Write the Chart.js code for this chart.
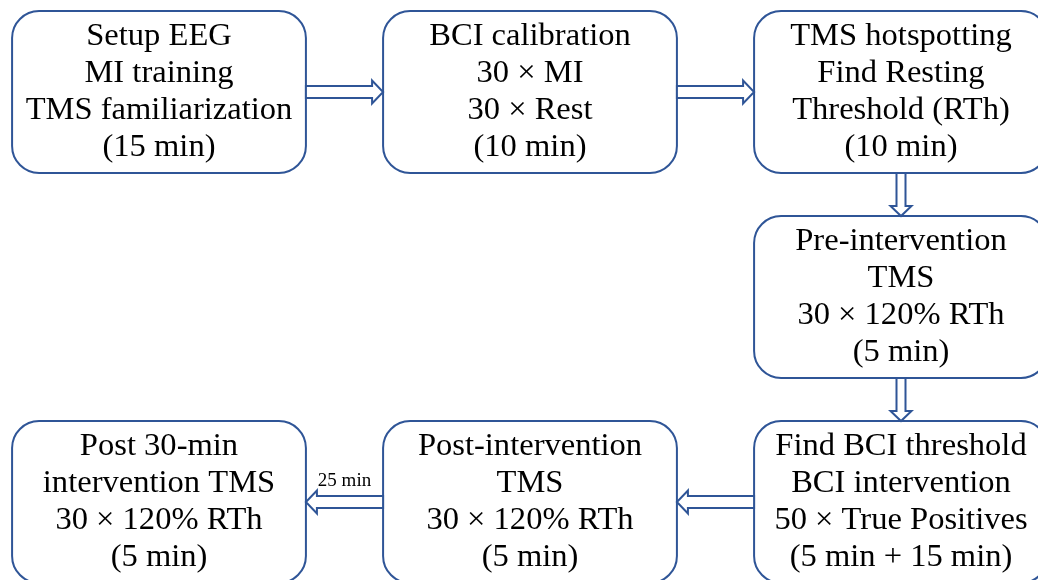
<!DOCTYPE html>
<html>
<head>
<meta charset="utf-8">
<script src="https://cdn.jsdelivr.net/npm/chart.js@4.4.1/dist/chart.umd.min.js"></script>
<style>
  html, body { margin: 0; padding: 0; background: #fff; }
  #wrap { width: 1038px; height: 580px; }
</style>
</head>
<body>
<div id="wrap"><canvas id="flow" width="1038" height="580"></canvas></div>
<script>
// flowchart steps: grid column / row of each box, and its text lines
const boxCols = [0, 1, 2, 2, 2, 1, 0];
const boxRows = [0, 0, 0, 1, 2, 2, 2];
const boxLines = [
  ["Setup EEG", "MI training", "TMS familiarization", "(15 min)"],
  ["BCI calibration", "30 × MI", "30 × Rest", "(10 min)"],
  ["TMS hotspotting", "Find Resting", "Threshold (RTh)", "(10 min)"],
  ["Pre-intervention", "TMS", "30 × 120% RTh", "(5 min)"],
  ["Find BCI threshold", "BCI intervention", "50 × True Positives", "(5 min + 15 min)"],
  ["Post-intervention", "TMS", "30 × 120% RTh", "(5 min)"],
  ["Post 30-min", "intervention TMS", "30 × 120% RTh", "(5 min)"]
];

// arrows link box i -> box i+1
const arrowFrom = [0, 1, 2, 3, 4, 5];
const arrowTo = [1, 2, 3, 4, 5, 6];
const arrowLabels = ["", "", "", "", "", "25 min"];

const BLUE = "#2F5597";
const FONT = '"Liberation Serif", "DejaVu Serif", serif';
const BOX_HALF_W = 0.396;   // in column units
const BOX_HALF_H = 0.395;   // in row units
const RADIUS = 27;
const LINE_H = 37;
const TEXT_STRETCH = 1.05;  // serif in the original is a bit wider

function roundRect(ctx, x, y, w, h, r) {
  ctx.beginPath();
  ctx.moveTo(x + r, y);
  ctx.lineTo(x + w - r, y);
  ctx.arcTo(x + w, y, x + w, y + r, r);
  ctx.lineTo(x + w, y + h - r);
  ctx.arcTo(x + w, y + h, x + w - r, y + h, r);
  ctx.lineTo(x + r, y + h);
  ctx.arcTo(x, y + h, x, y + h - r, r);
  ctx.lineTo(x, y + r);
  ctx.arcTo(x, y, x + r, y, r);
  ctx.closePath();
}

// hollow block arrow from (x0,y0) to (x1,y1), axis aligned
function blockArrow(ctx, x0, y0, x1, y1, shaft, head, headLen) {
  const len = Math.hypot(x1 - x0, y1 - y0);
  const ang = Math.atan2(y1 - y0, x1 - x0);
  ctx.save();
  ctx.translate(x0, y0);
  ctx.rotate(ang);
  ctx.beginPath();
  ctx.moveTo(0, -shaft);
  ctx.lineTo(len - headLen, -shaft);
  ctx.lineTo(len - headLen, -head);
  ctx.lineTo(len, 0);
  ctx.lineTo(len - headLen, head);
  ctx.lineTo(len - headLen, shaft);
  ctx.lineTo(0, shaft);
  ctx.closePath();
  ctx.fillStyle = "#fff";
  ctx.fill();
  ctx.lineWidth = 2;
  ctx.strokeStyle = BLUE;
  ctx.stroke();
  ctx.restore();
}

function boxRect(scales, i) {
  const { x, y } = scales;
  const left = x.getPixelForValue(boxCols[i] - BOX_HALF_W);
  const right = x.getPixelForValue(boxCols[i] + BOX_HALF_W);
  const top = y.getPixelForValue(boxRows[i] - BOX_HALF_H);
  const bottom = y.getPixelForValue(boxRows[i] + BOX_HALF_H);
  return { left, right, top, bottom, cx: (left + right) / 2, cy: (top + bottom) / 2 };
}

function stretchedText(ctx, t, x, y) {
  ctx.save();
  ctx.translate(x, y);
  ctx.scale(TEXT_STRETCH, 1);
  ctx.fillText(t, 0, 0);
  ctx.restore();
}

const flowPlugin = {
  id: "flow",
  afterDatasetsDraw(chart) {
    const ctx = chart.ctx;
    const scales = chart.scales;

    boxLines.forEach((lines, i) => {
      const r = boxRect(scales, i);
      roundRect(ctx, r.left, r.top, r.right - r.left, r.bottom - r.top, RADIUS);
      ctx.fillStyle = "#fff";
      ctx.fill();
      ctx.lineWidth = 2;
      ctx.strokeStyle = BLUE;
      ctx.stroke();

      ctx.fillStyle = "#000";
      ctx.font = "31px " + FONT;
      ctx.textAlign = "center";
      ctx.textBaseline = "middle";
      const startY = r.cy - (lines.length - 1) * LINE_H / 2;
      lines.forEach((t, k) => stretchedText(ctx, t, r.cx, startY + k * LINE_H));
    });

    arrowFrom.forEach((a, k) => {
      const A = boxRect(scales, a);
      const B = boxRect(scales, arrowTo[k]);
      let x0, y0, x1, y1;
      if (boxRows[a] === boxRows[arrowTo[k]]) {
        y0 = y1 = A.cy;
        if (B.cx > A.cx) { x0 = A.right; x1 = B.left; } else { x0 = A.left; x1 = B.right; }
        blockArrow(ctx, x0, y0, x1, y1, 6, 11.5, 11);
      } else {
        x0 = x1 = A.cx;
        y0 = A.bottom; y1 = B.top;
        blockArrow(ctx, x0, y0, x1, y1, 4.5, 10.5, 10);
      }
      if (arrowLabels[k]) {
        ctx.fillStyle = "#000";
        ctx.font = "19px " + FONT;
        ctx.textAlign = "center";
        ctx.textBaseline = "middle";
        ctx.fillText(arrowLabels[k], (x0 + x1) / 2, y0 - 21);
      }
    });
  }
};

new Chart(document.getElementById("flow"), {
  type: "scatter",
  data: {
    datasets: [{
      data: boxCols.map((c, i) => ({ x: c, y: boxRows[i] })),
      pointRadius: 0
    }]
  },
  options: {
    responsive: false,
    animation: false,
    layout: { padding: 0 },
    plugins: { legend: { display: false }, tooltip: { enabled: false } },
    scales: {
      x: { type: "linear", display: false, min: -159 / 371, max: (1038 - 159) / 371 },
      y: { type: "linear", display: false, reverse: true, min: -92 / 205, max: (580 - 92) / 205 }
    }
  },
  plugins: [flowPlugin]
});
</script>
</body>
</html>
